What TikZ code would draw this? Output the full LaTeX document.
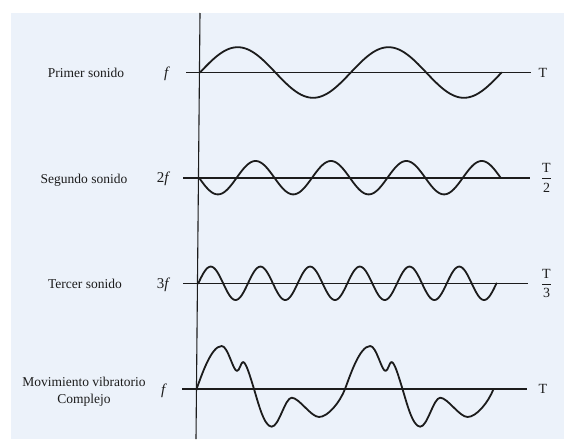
\documentclass[tikz,border=0pt]{standalone}
\usepackage{fontspec}
\setmainfont{Liberation Serif}
\definecolor{paper}{RGB}{236,242,250}
\definecolor{ink}{RGB}{28,28,28}
\tikzset{
  lbl/.style={font=\fontsize{13.5}{17}\selectfont, text=ink, inner sep=0pt, align=center},
  freq/.style={font=\fontsize{15}{17}\selectfont, text=ink, inner sep=0pt},
  per/.style={font=\fontsize{14}{16}\selectfont, text=ink, inner sep=0pt},
  wave/.style={draw=ink, line width=1.8pt, line join=round, line cap=round},
  base/.style={draw=ink, line width=1.6pt},
  axisline/.style={draw=ink, line width=1.1pt}
}
\newcommand{\complexperiod}{%
  (196.5,389) .. controls (201.5,376) and (211,346) .. (221.7,346)
  .. controls (228,346) and (233,371) .. (237,371)
  .. controls (239.5,371) and (241,362) .. (243,362)
  .. controls (246,362) and (250,376) .. (254,389)
  .. controls (258,402) and (264,426.7) .. (271.7,426.7)
  .. controls (279,426.7) and (285,397.7) .. (291.7,397.7)
  .. controls (299,397.7) and (311,417) .. (319,417)
  .. controls (328,417) and (340,402) .. (345,389)}
\begin{document}
\begin{tikzpicture}[x=1pt,y=-1pt]
\useasboundingbox (0,0) rectangle (564,439);
\fill[white] (0,0) rectangle (564,439);
\fill[paper] (11,13) rectangle (564,439);
% vertical axis
\coordinate (axtop) at (200,13);
\coordinate (axbot) at (196,439);
\draw[axisline] (axtop) -- (axbot);
% baselines
\coordinate (b1l) at (186,72.5); \coordinate (b1r) at (531,72.5);
\coordinate (b2l) at (183,177.7); \coordinate (b2r) at (530,177.7);
\coordinate (b3l) at (183,283.3); \coordinate (b3r) at (528,283.3);
\coordinate (b4l) at (182,389); \coordinate (b4r) at (527,389);
\draw[base] (b1l) -- (b1r);
\draw[base] (b2l) -- (b2r);
\draw[base] (b3l) -- (b3r);
\draw[base] (b4l) -- (b4r);
% waves
\draw[wave] plot[domain=0:720, samples=145, smooth] ({200+\x/360*150.8}, {72.5-25.3*sin(\x)});
\draw[wave] plot[domain=0:1440, samples=241, smooth] ({199+\x/360*75.4}, {177.7+16.7*sin(\x)});
\draw[wave] plot[domain=0:2160, samples=301, smooth] ({198.3+\x/360*49.7}, {283.3-16.7*sin(\x)});
\draw[wave] \complexperiod;
\begin{scope}[xshift=148.5pt]
\draw[wave] \complexperiod;
\end{scope}
% labels
\node[lbl] (l1) at (86,73) {Primer sonido};
\node[lbl] (l2) at (84,180) {Segundo sonido};
\node[lbl] (l3) at (85,284) {Tercer sonido};
\node[lbl] (l4) at (84,392) {Movimiento vibratorio\\Complejo};
\node[freq] (f1) at (167,74) {\textit{f}};
\node[freq] (f2) at (163.5,179) {2\textit{f}};
\node[freq] (f3) at (163.5,285) {3\textit{f}};
\node[freq] (f4) at (164,391) {\textit{f}};
\node[per] (t1) at (543,73) {T};
\node[per] (t2) at (546.5,177.7) {$\displaystyle\frac{\mbox{T}}{\mbox{2}}$};
\node[per] (t3) at (546.5,283.3) {$\displaystyle\frac{\mbox{T}}{\mbox{3}}$};
\node[per] (t4) at (543,389) {T};
\end{tikzpicture}
\end{document}
